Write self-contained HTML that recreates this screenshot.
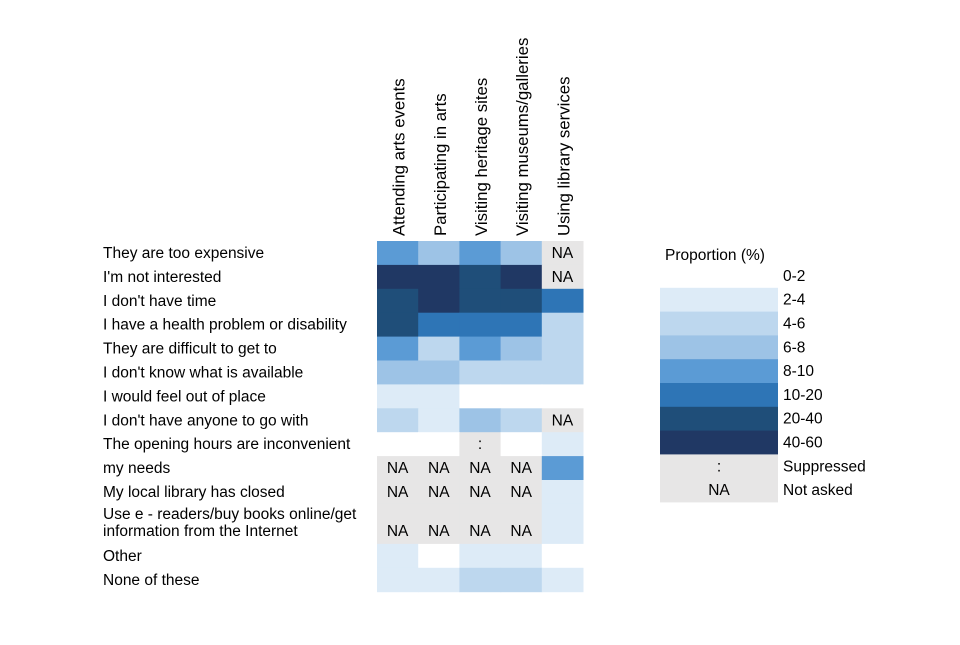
<!DOCTYPE html>
<html><head><meta charset="utf-8"><style>
body{margin:0;background:#fff;}
svg text{font-family:"Liberation Sans",sans-serif;font-size:15.5px;fill:#000;}
svg text.col{font-size:16.8px;}
</style></head><body>
<svg id="chart" width="960" height="640" xmlns="http://www.w3.org/2000/svg"></svg>
<script>
const columns = ["Attending arts events","Participating in arts","Visiting heritage sites","Visiting museums/galleries","Using library services"];
const rows = ["They are too expensive","I'm not interested","I don't have time","I have a health problem or disability","They are difficult to get to","I don't know what is available","I would feel out of place","I don't have anyone to go with","The opening hours are inconvenient","my needs","My local library has closed","Use e - readers/buy books online/get|information from the Internet","Other","None of these"];
const levels = [
 [4,3,4,3,"NA"],
 [7,7,6,7,"NA"],
 [6,7,6,6,5],
 [6,5,5,5,2],
 [4,2,4,3,2],
 [3,3,2,2,2],
 [1,1,0,0,0],
 [2,1,3,2,"NA"],
 [0,0,"S",0,1],
 ["NA","NA","NA","NA",4],
 ["NA","NA","NA","NA",1],
 ["NA","NA","NA","NA",1],
 [1,0,1,1,0],
 [1,1,2,2,1]
];
const legendLabels = ["0-2","2-4","4-6","6-8","8-10","10-20","20-40","40-60","Suppressed","Not asked"];
const palette = ["#ffffff","#ddebf7","#bdd7ee","#9dc3e6","#5b9bd5","#2e75b6","#1f4e79","#203864"];
const GREY = "#e7e6e6";
const svg = document.getElementById('chart');
const NS = "http://www.w3.org/2000/svg";
function mk(tag, attrs){const e=document.createElementNS(NS,tag);for(const k in attrs)e.setAttribute(k,attrs[k]);svg.appendChild(e);return e;}
const x0=377, cw=41.2, y0=241, rh=23.9;
const rowH = rows.map(r=>r.includes("|")?40:rh);
const rowY=[];let yy=y0;rowH.forEach(h=>{rowY.push(yy);yy+=h;});
function xPos(i){return x0+i*cw;}
function fillOf(v){return (v==="NA"||v==="S")?GREY:palette[v];}
levels.forEach((row,r)=>{
 row.forEach((v,c)=>{
  const rect=mk('rect',{x:xPos(c),y:rowY[r],width:cw+0.5,height:rowH[r]+0.5,fill:fillOf(v)});
  
  
  if(v==="NA"||v==="S"){
   const cy = rows[r].includes("|") ? rowY[r]+rowH[r]-8 : rowY[r]+rowH[r]/2+5;
   const t=mk('text',{x:xPos(c)+cw/2,y:cy,'text-anchor':'middle'});
   t.textContent = v==="NA"?"NA":":";
   
   
  }
 });
});
rows.forEach((r,i)=>{
 const parts=r.split("|");
 if(parts.length===1){
  const t=mk('text',{x:103,y:rowY[i]+rowH[i]/2+5});t.textContent=r;
  
  
 } else {
  const t=mk('text',{x:103,y:rowY[i]+15});t.textContent=parts[0];
  
  
  const t2=mk('text',{x:103,y:rowY[i]+rowH[i]-8});t2.textContent=parts[1];
  
  
 }
});
columns.forEach((c,i)=>{
 const x=xPos(i)+cw/2+7, y=236;
 const t=mk('text',{x:x,y:y,'class':'col',transform:'rotate(-90 '+x+' '+y+')'});t.textContent=c;
 
 
});
const lt=mk('text',{x:665,y:260});lt.textContent="Proportion (%)";


const lx=660, lw=118, ly0=264, lh=23.8;
legendLabels.forEach((lab,i)=>{
 const y=ly0+i*lh;
 const fill = i<8?palette[i]:GREY;
 const r=mk('rect',{x:lx,y:y,width:lw,height:lh+0.4,fill:fill});
 
 
 if(i>=8){
  const s=mk('text',{x:lx+lw/2,y:y+lh/2+5,'text-anchor':'middle'});s.textContent=i===8?":":"NA";
  
  
 }
 const t=mk('text',{x:783,y:y+lh/2+5});t.textContent=lab;
 
 
});
</script>
</body></html>
